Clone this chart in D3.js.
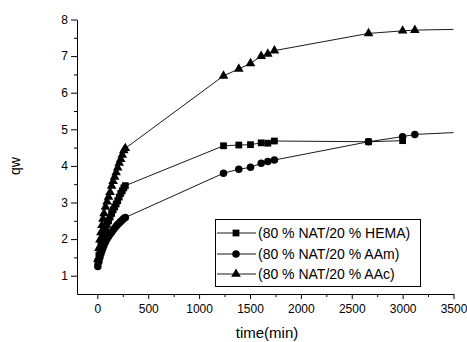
<!DOCTYPE html>
<html>
<head>
<meta charset="utf-8">
<script src="https://cdn.jsdelivr.net/npm/d3@7"></script>
<style>
  body { margin: 0; background: #fff; }
  svg { display: block; font-family: "Liberation Sans", Arial, sans-serif; }
</style>
</head>
<body>
<figure id="chart" style="margin:0"></figure>
<script>
// time axis (min) and swelling values
const timesEarly = [5, 15, 25, 35, 45, 55, 65, 80, 95, 110, 125, 140, 155, 170, 185, 200, 215, 230, 245, 260, 275];
const timesLate = [1240, 1390, 1505, 1610, 1675, 1740, 2665, 3000, 3120];

const hemaEarly = [1.38, 1.55, 1.7, 1.83, 1.95, 2.06, 2.15, 2.28, 2.4, 2.5, 2.6, 2.7, 2.8, 2.88, 2.96, 3.05, 3.15, 3.25, 3.32, 3.4, 3.46];
const hemaLate = [4.55, 4.57, 4.58, 4.63, 4.62, 4.68, 4.66, 4.69];

const aamEarly = [1.25, 1.38, 1.5, 1.6, 1.68, 1.76, 1.83, 1.92, 2.0, 2.07, 2.13, 2.19, 2.25, 2.3, 2.35, 2.4, 2.44, 2.48, 2.52, 2.56, 2.59];
const aamLate = [3.8, 3.91, 3.96, 4.07, 4.12, 4.16, 4.66, 4.8, 4.86];

const aacEarly = [1.45, 1.75, 1.98, 2.18, 2.38, 2.55, 2.7, 2.88, 3.02, 3.15, 3.28, 3.45, 3.58, 3.7, 3.82, 3.95, 4.08, 4.18, 4.3, 4.42, 4.48];
const aacLate = [6.46, 6.65, 6.8, 7.0, 7.06, 7.15, 7.62, 7.69, 7.71];

// fitted line continues to the end of the axis for two series
const tailTime = 3500;
const aamTail = 4.91;
const aacTail = 7.73;

const seriesNames = ["(80 % NAT/20 % HEMA)", "(80 % NAT/20 % AAm)", "(80 % NAT/20 % AAc)"];
const xTicks = [0, 500, 1000, 1500, 2000, 2500, 3000, 3500];
const yTicks = [1, 2, 3, 4, 5, 6, 7, 8];

function build(early, late, tail) {
  const pts = [];
  early.forEach((v, i) => pts.push({t: timesEarly[i], q: v}));
  late.forEach((v, i) => pts.push({t: timesLate[i], q: v}));
  const line = pts.slice();
  if (tail != null) line.push({t: tailTime, q: tail});
  return {pts, line};
}

const series = [
  Object.assign(build(hemaEarly, hemaLate, null), {name: seriesNames[0], sym: d3.symbolSquare, size: 46}),
  Object.assign(build(aamEarly, aamLate, aamTail), {name: seriesNames[1], sym: d3.symbolCircle, size: 44}),
  Object.assign(build(aacEarly, aacLate, aacTail), {name: seriesNames[2], sym: d3.symbolTriangle, size: 40})
];

const W = 467, H = 342;
const svg = d3.select("#chart").append("svg")
  .attr("width", W).attr("height", H);

const x = d3.scaleLinear().domain([-200, 3500]).range([77, 453.5]);
const y = d3.scaleLinear().domain([0.5, 8]).range([294, 19.5]);

// left axis
const gy = svg.append("g").attr("transform", "translate(77,0)");
gy.call(d3.axisLeft(y).tickValues(yTicks).tickSize(6).tickSizeOuter(0).tickPadding(3))
  .call(g => g.selectAll("text").attr("font-size", 12).attr("fill", "#000"))
  .call(g => g.select(".domain").attr("stroke", "#000"));
gy.append("g")
  .call(d3.axisLeft(y).tickValues(d3.range(1.5, 8, 1)).tickSize(3).tickFormat(""))
  .call(g => g.select(".domain").remove());

// bottom axis
const gx = svg.append("g").attr("transform", "translate(0,294)");
gx.call(d3.axisBottom(x).tickValues(xTicks).tickSize(5).tickSizeOuter(0).tickPadding(5).tickFormat(d3.format("d")))
  .call(g => g.selectAll("text").attr("font-size", 12).attr("fill", "#000"))
  .call(g => g.select(".domain").attr("stroke", "#000"));
gx.append("g")
  .call(d3.axisBottom(x).tickValues(d3.range(250, 3500, 500)).tickSize(3).tickFormat(""))
  .call(g => g.select(".domain").remove());

svg.selectAll(".tick line").attr("stroke", "#000");

// axis titles
svg.append("text")
  .attr("x", 267).attr("y", 338)
  .attr("text-anchor", "middle")
  .attr("font-size", 15)
  .text("time(min)");

svg.append("text")
  .attr("transform", "translate(20,166) rotate(-90)")
  .attr("text-anchor", "middle")
  .attr("font-size", 14)
  .text("qw");

// lines and markers
const lineGen = d3.line().x(d => x(d.t)).y(d => y(d.q));

series.forEach(s => {
  svg.append("path")
    .datum(s.line)
    .attr("d", lineGen)
    .attr("fill", "none")
    .attr("stroke", "#000")
    .attr("stroke-width", 0.9);

  svg.append("g").selectAll("path")
    .data(s.pts)
    .enter().append("path")
    .attr("transform", d => `translate(${x(d.t)},${y(d.q)})`)
    .attr("d", d3.symbol().type(s.sym).size(s.size))
    .attr("fill", "#000");
});

// legend
const legend = svg.append("g");
legend.append("rect")
  .attr("x", 215.5).attr("y", 219.5)
  .attr("width", 205).attr("height", 67)
  .attr("fill", "#fff").attr("stroke", "#000").attr("stroke-width", 1);

const rowY = [233, 254, 274];
series.forEach((s, i) => {
  legend.append("line")
    .attr("x1", 217).attr("x2", 256)
    .attr("y1", rowY[i]).attr("y2", rowY[i])
    .attr("stroke", "#000").attr("stroke-width", 0.9);
  legend.append("path")
    .attr("transform", `translate(236,${rowY[i]})`)
    .attr("d", d3.symbol().type(s.sym).size(s.size))
    .attr("fill", "#000");
  legend.append("text")
    .attr("x", 258).attr("y", rowY[i])
    .attr("dy", "0.36em")
    .attr("font-size", 14)
    .text(s.name);
});
</script>
</body>
</html>
